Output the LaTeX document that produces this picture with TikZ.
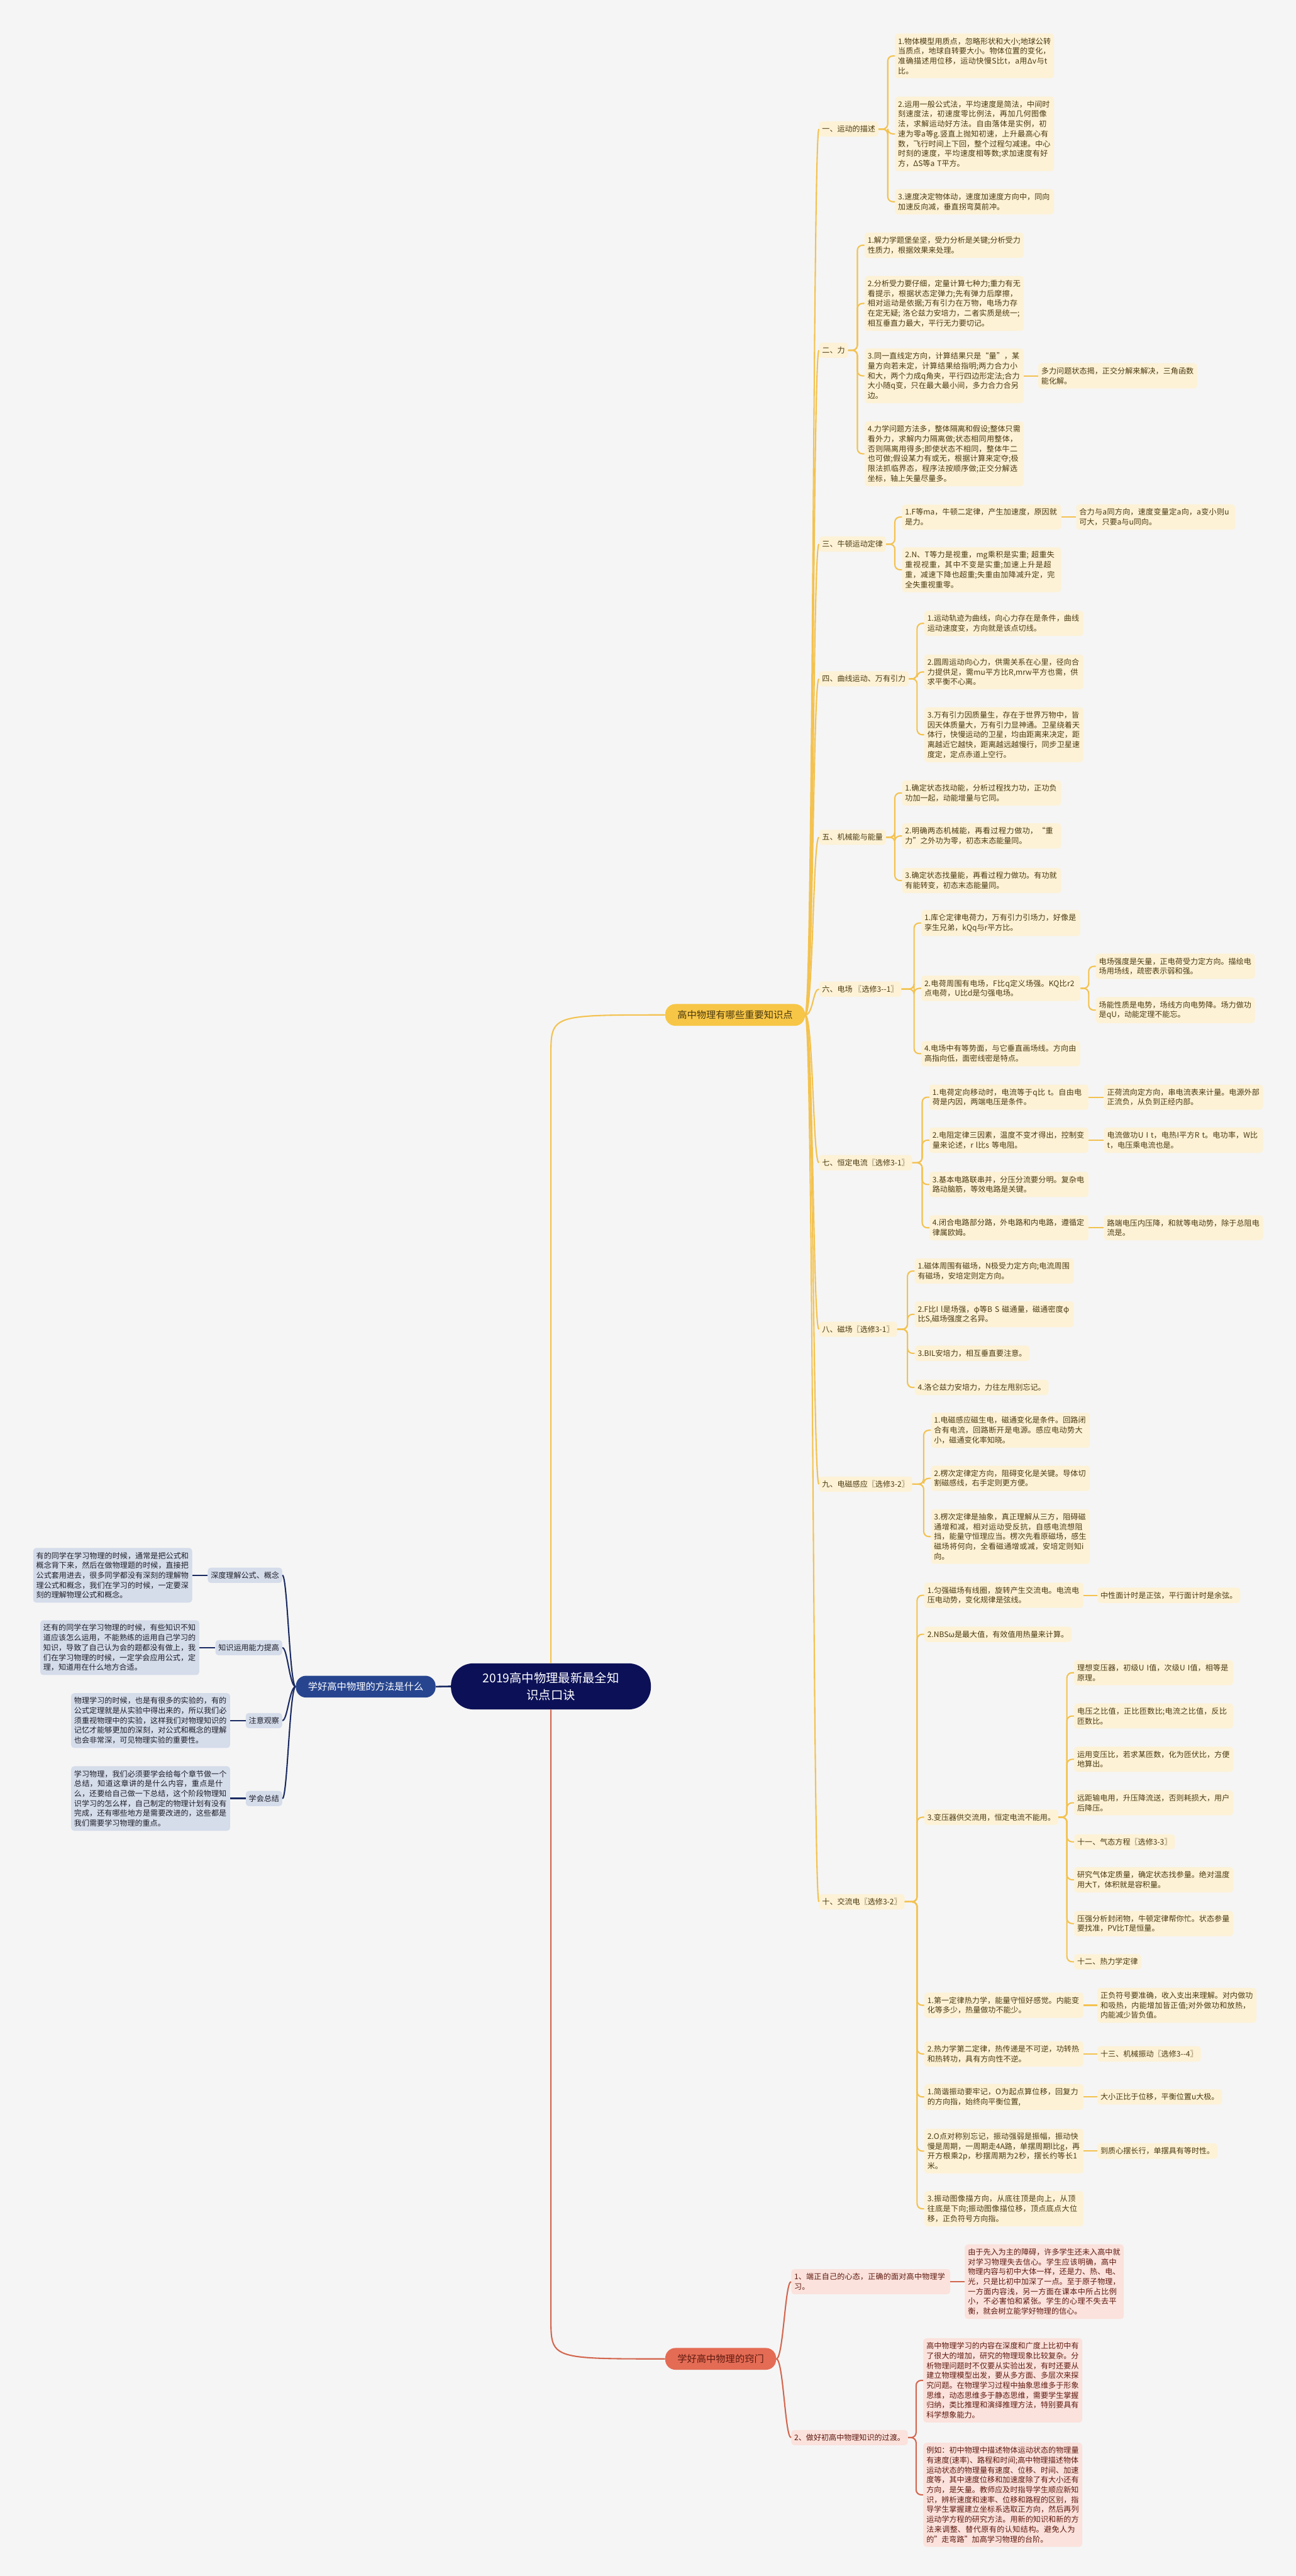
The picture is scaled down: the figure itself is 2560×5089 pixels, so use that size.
\documentclass[tikz,border=0pt]{standalone}
\usepackage{fontspec}
\setmainfont{Noto Sans CJK SC}
\usetikzlibrary{calc}
\XeTeXlinebreaklocale "zh"
\XeTeXlinebreakskip=0pt plus 1pt

\definecolor{bgcol}{HTML}{F5F5F5}
\definecolor{kcol}{HTML}{F3C24F}
\definecolor{kgold}{HTML}{F7C646}
\definecolor{kfill}{HTML}{FDF2D6}
\definecolor{ktext}{HTML}{4B3A10}
\definecolor{qcol}{HTML}{D3664E}
\definecolor{qhead}{HTML}{E46C55}
\definecolor{qfill}{HTML}{FBE2DC}
\definecolor{qtext}{HTML}{5E1A10}
\definecolor{mcol}{HTML}{1B2B62}
\definecolor{mhead}{HTML}{27458F}
\definecolor{mfill}{HTML}{D5DCEA}
\definecolor{mtext}{HTML}{1E1E2A}
\definecolor{rootcol}{HTML}{0C1157}

\newcommand\mapfont{\fontsize{7.5pt}{9.75pt}\selectfont}
\newcommand\headfont{\fontsize{9.5pt}{11pt}\selectfont}
\newcommand\rootfont{\fontsize{12pt}{16.5pt}\selectfont}

\tikzset{
  kbox/.style={fill=kfill,text=ktext,rounded corners=3pt,inner xsep=3pt,inner ysep=4pt,font=\mapfont,anchor=west},
  kpar/.style={kbox,text width=151pt,align=left},
  qbox/.style={kbox,fill=qfill,text=qtext},
  qpar/.style={qbox,text width=151pt,align=left},
  mbox/.style={kbox,fill=mfill,text=mtext,anchor=east},
  mpar/.style={mbox,text width=151pt,align=left},
  kwire/.style={draw=kcol,line width=1.3pt},
  qwire/.style={draw=qcol,line width=1.3pt},
  mwire/.style={draw=mcol,line width=1.3pt},
  headbox/.style={rounded corners=10pt,font=\headfont,minimum height=21.5pt,inner xsep=12pt},
  root/.style={fill=rootcol,text=white,font=\rootfont,align=center,rounded corners=22pt,minimum width=197.5pt,minimum height=45.5pt}
}

\begin{document}
\begin{tikzpicture}[x=0.5pt,y=-0.5pt]
\fill[bgcol] (0,0) rectangle (2560,5089);

\node[root] (C) at (1088.5,3331.5) {2019高中物理最新最全知\\识点口诀};
\node[headbox,fill=kgold,text=ktext,minimum width=137.5pt,anchor=west] (K) at (1314,2005) {高中物理有哪些重要知识点};
\node[headbox,fill=mhead,text=white,minimum width=137pt,anchor=east] (M) at (861,3332) {学好高中物理的方法是什么};
\node[headbox,fill=qhead,text=qtext,anchor=west] (Q) at (1314,4660) {学好高中物理的窍门};

% knowledge points
\node[kbox] (L1) at (1618,255) {一、运动的描述};
\node[kbox] (L2) at (1618,692) {二、力};
\node[kbox] (L3) at (1618,1075) {三、牛顿运动定律};
\node[kbox] (L4) at (1618,1341) {四、曲线运动、万有引力};
\node[kbox] (L5) at (1618,1654) {五、机械能与能量};
\node[kbox] (L6) at (1618,1954) {六、电场 〖选修3-{}-1〗};
\node[kbox] (L7) at (1618,2297) {七、恒定电流〖选修3-1〗};
\node[kbox] (L8) at (1618,2626) {八、磁场〖选修3-1〗};
\node[kbox] (L9) at (1618,2932) {九、电磁感应〖选修3-2〗};
\node[kbox] (L10) at (1618,3757) {十、交流电〖选修3-2〗};

\node[kpar] (A1) at (1768,110.5) {1.物体模型用质点，忽略形状和大小;地球公转当质点，地球自转要大小。物体位置的变化，准确描述用位移，运动快慢S比t，a用Δv与t比。};
\node[kpar] (A2) at (1768,264.5) {2.运用一般公式法，平均速度是简法，中间时刻速度法，初速度零比例法，再加几何图像法，求解运动好方法。自由落体是实例，初速为零a等g.竖直上抛知初速，上升最高心有数，飞行时间上下回，整个过程匀减速。中心时刻的速度，平均速度相等数;求加速度有好方，ΔS等a T平方。};
\node[kpar] (A3) at (1768,398.5) {3.速度决定物体动，速度加速度方向中，同向加速反向减，垂直拐弯莫前冲。};

\node[kpar] (B1) at (1708,484.5) {1.解力学题堡垒坚，受力分析是关键;分析受力性质力，根据效果来处理。};
\node[kpar] (B2) at (1708,599.5) {2.分析受力要仔细，定量计算七种力;重力有无看提示，根据状态定弹力;先有弹力后摩擦，相对运动是依据;万有引力在万物，电场力存在定无疑; 洛仑兹力安培力，二者实质是统一;相互垂直力最大，平行无力要切记。};
\node[kpar] (B3) at (1708,742.5) {3.同一直线定方向，计算结果只是“量”，某量方向若未定，计算结果给指明;两力合力小和大，两个力成q角夹，平行四边形定法;合力大小随q变，只在最大最小间，多力合力合另边。};
\node[kpar] (B3x) at (2051,742.5) {多力问题状态揭，正交分解来解决，三角函数能化解。};
\node[kpar] (B4) at (1708,896.5) {4.力学问题方法多，整体隔离和假设;整体只需看外力，求解内力隔离做;状态相同用整体，否则隔离用得多;即使状态不相同，整体牛二也可做;假设某力有或无，根据计算来定夺;极限法抓临界态，程序法按顺序做;正交分解选坐标，轴上矢量尽量多。};

\node[kpar] (C1) at (1782,1021.5) {1.F等ma，牛顿二定律，产生加速度，原因就是力。};
\node[kpar] (C1x) at (2126,1021.5) {合力与a同方向，速度变量定a向，a变小则u可大，只要a与u同向。};
\node[kpar] (C2) at (1782,1125.5) {2.N、T等力是视重，mg乘积是实重; 超重失重视视重，其中不变是实重;加速上升是超重，减速下降也超重;失重由加降减升定，完全失重视重零。};

\node[kpar] (D1) at (1826,1231.5) {1.运动轨迹为曲线，向心力存在是条件，曲线运动速度变，方向就是该点切线。};
\node[kpar] (D2) at (1826,1327.5) {2.圆周运动向心力，供需关系在心里，径向合力提供足，需mu平方比R,mrw平方也需，供求平衡不心离。};
\node[kpar] (D3) at (1826,1451.5) {3.万有引力因质量生，存在于世界万物中，皆因天体质量大，万有引力显神通。卫星绕着天体行，快慢运动的卫星，均由距离来决定，距离越近它越快，距离越远越慢行，同步卫星速度定，定点赤道上空行。};

\node[kpar] (E1) at (1782,1566.5) {1.确定状态找动能，分析过程找力功，正功负功加一起，动能增量与它同。};
\node[kpar] (E2) at (1782,1651.5) {2.明确两态机械能，再看过程力做功，“重力”之外功为零，初态末态能量同。};
\node[kpar] (E3) at (1782,1739.5) {3.确定状态找量能，再看过程力做功。有功就有能转变，初态末态能量同。};

\node[kpar] (F1) at (1820,1823.5) {1.库仑定律电荷力，万有引力引场力，好像是孪生兄弟，kQq与r平方比。};
\node[kpar] (F2) at (1820,1952.5) {2.电荷周围有电场，F比q定义场强。KQ比r2点电荷，U比d是匀强电场。};
\node[kpar] (F2a) at (2165,1909) {电场强度是矢量，正电荷受力定方向。描绘电场用场线，疏密表示弱和强。};
\node[kpar] (F2b) at (2165,1995.5) {场能性质是电势，场线方向电势降。场力做功是qU，动能定理不能忘。};
\node[kpar] (F4) at (1820,2081.5) {4.电场中有等势面，与它垂直画场线。方向由高指向低，面密线密是特点。};

\node[kpar] (G1) at (1836,2167.5) {1.电荷定向移动时，电流等于q比 t。自由电荷是内因，两端电压是条件。};
\node[kpar] (G1x) at (2181,2167.5) {正荷流向定方向，串电流表来计量。电源外部正流负，从负到正经内部。};
\node[kpar] (G2) at (1836,2252.5) {2.电阻定律三因素，温度不变才得出，控制变量来论述，r l比s 等电阻。};
\node[kpar] (G2x) at (2181,2252.5) {电流做功U I t，电热I平方R t。电功率，W比t，电压乘电流也是。};
\node[kpar] (G3) at (1836,2340) {3.基本电路联串并，分压分流要分明。复杂电路动脑筋，等效电路是关键。};
\node[kpar] (G4) at (1836,2425.5) {4.闭合电路部分路，外电路和内电路，遵循定律属欧姆。};
\node[kpar] (G4x) at (2181,2425.5) {路端电压内压降，和就等电动势，除于总阻电流是。};

\node[kpar] (H1) at (1807,2511) {1.磁体周围有磁场，N极受力定方向;电流周围有磁场，安培定则定方向。};
\node[kpar] (H2) at (1807,2596.5) {2.F比I l是场强，φ等B S 磁通量，磁通密度φ比S,磁场强度之名异。};
\node[kbox] (H3) at (1807,2673.5) {3.BIL安培力，相互垂直要注意。};
\node[kbox] (H4) at (1807,2741) {4.洛仑兹力安培力，力往左甩别忘记。};

\node[kpar] (I1) at (1839,2825.5) {1.电磁感应磁生电，磁通变化是条件。回路闭合有电流，回路断开是电源。感应电动势大小，磁通变化率知晓。};
\node[kpar] (I2) at (1839,2920.5) {2.楞次定律定方向，阻碍变化是关键。导体切割磁感线，右手定则更方便。};
\node[kpar] (I3) at (1839,3035.5) {3.楞次定律是抽象，真正理解从三方，阻碍磁通增和减，相对运动受反抗，自感电流想阻挡，能量守恒理应当。楞次先看原磁场，感生磁场将何向，全看磁通增或减，安培定则知i 向。};

\node[kpar] (J1) at (1826,3151.5) {1.匀强磁场有线圈，旋转产生交流电。电流电压电动势，变化规律是弦线。};
\node[kbox] (J1x) at (2168,3151.5) {中性面计时是正弦，平行面计时是余弦。};
\node[kbox] (J2) at (1826,3228.5) {2.NBSω是最大值，有效值用热量来计算。};
\node[kbox] (J3) at (1826,3590) {3.变压器供交流用，恒定电流不能用。};
\node[kpar] (J3a) at (2122,3304.5) {理想变压器，初级U I值，次级U I值，相等是原理。};
\node[kpar] (J3b) at (2122,3390) {电压之比值，正比匝数比;电流之比值，反比匝数比。};
\node[kpar] (J3c) at (2122,3475.5) {运用变压比，若求某匝数，化为匝伏比，方便地算出。};
\node[kpar] (J3d) at (2122,3561.5) {远距输电用，升压降流送，否则耗损大，用户后降压。};
\node[kbox] (J3e) at (2122,3638.5) {十一、气态方程〖选修3-3〗};
\node[kpar] (J3f) at (2122,3713.5) {研究气体定质量，确定状态找参量。绝对温度用大T，体积就是容积量。};
\node[kpar] (J3g) at (2122,3800) {压强分析封闭物，牛顿定律帮你忙。状态参量要找准，PV比T是恒量。};
\node[kbox] (J3h) at (2122,3875.5) {十二、热力学定律};
\node[kpar] (J4) at (1826,3961.5) {1.第一定律热力学，能量守恒好感觉。内能变化等多少，热量做功不能少。};
\node[kpar] (J4x) at (2168,3961.5) {正负符号要准确，收入支出来理解。对内做功和吸热，内能增加皆正值;对外做功和放热，内能减少皆负值。};
\node[kpar] (J5) at (1826,4057.5) {2.热力学第二定律，热传递是不可逆，功转热和热转功，具有方向性不逆。};
\node[kbox] (J5x) at (2168,4057.5) {十三、机械振动〖选修3-{}-4〗};
\node[kpar] (J6) at (1826,4142.5) {1.简谐振动要牢记，O为起点算位移，回复力的方向指，始终向平衡位置,};
\node[kbox] (J6x) at (2168,4142.5) {大小正比于位移，平衡位置u大极。};
\node[kpar] (J7) at (1826,4249.5) {2.O点对称别忘记，振动强弱是振幅，振动快慢是周期，一周期走4A路，单摆周期l比g，再开方根乘2p，秒摆周期为2秒，摆长约等长1米。};
\node[kbox] (J7x) at (2168,4249.5) {到质心摆长行，单摆具有等时性。};
\node[kpar] (J8) at (1826,4363.5) {3.振动图像描方向，从底往顶是向上，从顶往底是下向;振动图像描位移，顶点底点大位移，正负符号方向指。};

% tips
\node[qpar] (Q1) at (1563,4507.5) {1、端正自己的心态，正确的面对高中物理学习。};
\node[qpar] (Q1a) at (1906,4507.5) {由于先入为主的障碍，许多学生还未入高中就对学习物理失去信心。学生应该明确，高中物理内容与初中大体一样，还是力、热、电、光，只是比初中加深了一点。至于原子物理，一方面内容浅，另一方面在课本中所占比例小，不必害怕和紧张。学生的心理不失去平衡，就会树立能学好物理的信心。};
\node[qbox] (Q2) at (1563,4815.5) {2、做好初高中物理知识的过渡。};
\node[qpar] (Q2a) at (1824,4702.5) {高中物理学习的内容在深度和广度上比初中有了很大的增加，研究的物理现象比较复杂。分析物理问题时不仅要从实验出发，有时还要从建立物理模型出发，要从多方面、多层次来探究问题。在物理学习过程中抽象思维多于形象思维，动态思维多于静态思维，需要学生掌握归纳，类比推理和演绎推理方法，特别要具有科学想象能力。};
\node[qpar] (Q2b) at (1824,4928.5) {例如：初中物理中描述物体运动状态的物理量有速度(速率)、路程和时间;高中物理描述物体运动状态的物理量有速度、位移、时间、加速度等，其中速度位移和加速度除了有大小还有方向，是矢量。教师应及时指导学生顺应新知识，辨析速度和速率、位移和路程的区别，指导学生掌握建立坐标系选取正方向，然后再列运动学方程的研究方法。用新的知识和新的方法来调整、替代原有的认知结构。避免人为的"走弯路"加高学习物理的台阶。};

% methods
\node[mbox] (la) at (558,3112) {深度理解公式、概念};
\node[mbox] (lb) at (558,3255) {知识运用能力提高};
\node[mbox] (lc) at (558,3399) {注意观察};
\node[mbox] (ld) at (558,3553) {学会总结};
\node[mpar] (da) at (380,3112) {有的同学在学习物理的时候，通常是把公式和概念背下来，然后在做物理题的时候，直接把公式套用进去，很多同学都没有深刻的理解物理公式和概念，我们在学习的时候，一定要深刻的理解物理公式和概念。};
\node[mpar] (db) at (394,3255) {还有的同学在学习物理的时候，有些知识不知道应该怎么运用，不能熟练的运用自己学习的知识，导致了自己认为会的题都没有做上，我们在学习物理的时候，一定学会应用公式，定理，知道用在什么地方合适。};
\node[mpar] (dc) at (455,3399) {物理学习的时候，也是有很多的实验的，有的公式定理就是从实验中得出来的，所以我们必须重视物理中的实验，这样我们对物理知识的记忆才能够更加的深刻，对公式和概念的理解也会非常深，可见物理实验的重要性。};
\node[mpar] (dd) at (455,3553) {学习物理，我们必须要学会给每个章节做一个总结，知道这章讲的是什么内容，重点是什么，还要给自己做一下总结，这个阶段物理知识学习的怎么样，自己制定的物理计划有没有完成，还有哪些地方是需要改进的，这些都是我们需要学习物理的重点。};

% connectors
\draw[kwire] (C.north) -- ($(C.north |- K.west)+(0,80)$) .. controls (C.north |- K.west) .. (K.west);
\draw[qwire] (C.south) -- ($(C.south |- Q.west)+(0,-80)$) .. controls (C.south |- Q.west) .. (Q.west);
\draw[mwire,line width=1.6pt] (C.west) -- (M.east);
\foreach \n in {1,...,10}
  \draw[kwire] (K.east) .. controls ($(K.east)+(16,0)$) and ($(L\n.west)+(-12,0)$) .. (L\n.west);
\foreach \p/\c in {L1/A1,L1/A2,L1/A3,L2/B1,L2/B2,L2/B3,L2/B4,L3/C1,L3/C2,L4/D1,L4/D2,L4/D3,
    L5/E1,L5/E2,L5/E3,L6/F1,L6/F2,L6/F4,F2/F2a,F2/F2b,L7/G1,L7/G2,L7/G3,L7/G4,
    L8/H1,L8/H2,L8/H3,L8/H4,L9/I1,L9/I2,L9/I3,L10/J1,L10/J2,L10/J3,L10/J4,L10/J5,L10/J6,L10/J7,L10/J8,
    J3/J3a,J3/J3b,J3/J3c,J3/J3d,J3/J3e,J3/J3f,J3/J3g,J3/J3h}
  \draw[kwire,rounded corners=5pt] (\p.east) -| ($(\c.west)+(-14,0)$) -- (\c.west);
\foreach \a/\b in {B3/B3x,C1/C1x,G1/G1x,G2/G2x,G4/G4x,J1/J1x,J4/J4x,J5/J5x,J6/J6x,J7/J7x}
  \draw[kwire] (\a.east) -- (\b.west);
\foreach \l in {Q1,Q2}
  \draw[qwire] (Q.east) .. controls ($(Q.east)+(14,0)$) and ($(\l.west)+(-12,0)$) .. (\l.west);
\draw[qwire] (Q1.east) -- (Q1a.west);
\foreach \c in {Q2a,Q2b}
  \draw[qwire,rounded corners=5pt] (Q2.east) -| ($(\c.west)+(-14,0)$) -- (\c.west);
\foreach \l in {la,lb,lc,ld}
  \draw[mwire] (M.west) .. controls ($(M.west)+(-12,0)$) and ($(\l.east)+(10,0)$) .. (\l.east);
\foreach \d/\l in {da/la,db/lb,dc/lc,dd/ld}
  \draw[mwire,line width=1.6pt] (\d.east) -- (\l.west);
\end{tikzpicture}
\end{document}
